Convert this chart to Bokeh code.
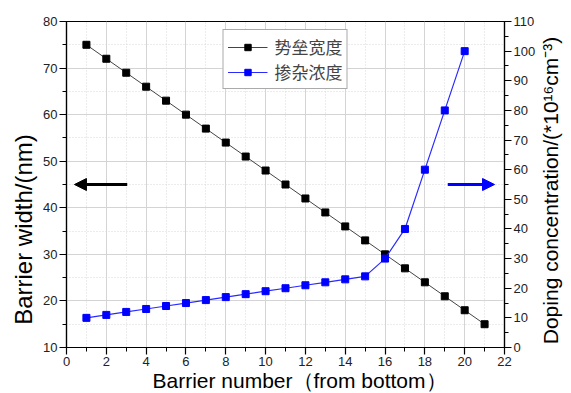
import math
from bokeh.plotting import figure
from bokeh.models import (Range1d, LinearAxis, SingleIntervalTicker, Arrow,
                          NormalHead, Legend, LegendItem, Label)
from bokeh.embed import file_html
from bokeh.resources import INLINE

# ---- data ----
barrier_x = list(range(1, 22))
barrier_width = [75, 72, 69, 66, 63, 60, 57, 54, 51, 48, 45, 42, 39, 36, 33, 30, 27, 24, 21, 18, 15]
doping_x = list(range(1, 21))
doping = [10, 11, 12, 13, 14, 15, 16, 17, 18, 19, 20, 21, 22, 23, 24, 30, 40, 60, 80, 100]
legend_labels = ["势垒宽度", "掺杂浓度"]
x_label = "Barrier number（from bottom）"
y_label = "Barrier width/(nm)"
y2_label = "Doping concentration/(*10¹⁶cm⁻³)"

# arrow annotation positions (data units)
left_arrow = dict(x_start=3.05, x_end=0.4, y=45)
right_arrow = dict(x_start=19.15, x_end=21.5, y=55)

FONT = "Liberation Sans"
W, H = 571, 393
BL, BR, BT, BB = 66, 67, 21, 46
FW, FH = W - BL - BR, H - BT - BB

p = figure(width=W, height=H, output_backend="svg", toolbar_location=None,
           x_range=Range1d(0, 22), y_range=Range1d(10, 80),
           min_border_left=BL, min_border_right=BR, min_border_top=BT,
           min_border_bottom=BB)
p.extra_y_ranges = {"dop": Range1d(0, 110)}

p.outline_line_color = "black"
p.outline_line_width = 1.2
p.background_fill_color = "white"
p.border_fill_color = "white"

# grids
p.xgrid.ticker = SingleIntervalTicker(interval=2, num_minor_ticks=2)
p.ygrid.ticker = SingleIntervalTicker(interval=10, num_minor_ticks=2)
for g in (p.xgrid, p.ygrid):
    g.grid_line_color = "#d4d4d4"
    g.grid_line_width = 1
    g.minor_grid_line_color = "#d8d8d8"
    g.minor_grid_line_dash = "1 2"
    g.minor_grid_line_width = 1


def style_axis(ax):
    ax.major_label_text_font = FONT
    ax.major_label_text_font_size = "13px"
    ax.major_label_text_color = "#222222"
    ax.major_label_standoff = 2
    ax.axis_line_color = "black"
    ax.axis_line_width = 1.2
    ax.major_tick_in = 0
    ax.major_tick_out = 7
    ax.minor_tick_in = 0
    ax.minor_tick_out = 4
    ax.major_tick_line_color = "black"
    ax.minor_tick_line_color = "black"
    ax.major_tick_line_width = 1.2


xa = p.xaxis[0]
xa.ticker = SingleIntervalTicker(interval=2, num_minor_ticks=2)
style_axis(xa)

ya = p.yaxis[0]
ya.ticker = SingleIntervalTicker(interval=10, num_minor_ticks=2)
style_axis(ya)

ra = LinearAxis(y_range_name="dop")
ra.ticker = SingleIntervalTicker(interval=10, num_minor_ticks=2)
style_axis(ra)
p.add_layout(ra, "right")

# axis titles placed in the side panels
p.add_layout(Label(x=FW / 2 + 14, y=11, x_units="screen", y_units="screen",
                   text=x_label, text_align="center", text_baseline="middle",
                   text_font=FONT, text_font_size="21px", text_color="black"),
             "below")
p.add_layout(Label(x=10, y=118, x_units="screen", y_units="screen",
                   text=y_label, angle=math.pi / 2, text_align="center",
                   text_baseline="middle", text_font=FONT,
                   text_font_size="24px", text_color="black"),
             "left")
p.add_layout(Label(x=12, y=FH / 2 - 6, x_units="screen", y_units="screen",
                   text=y2_label, angle=math.pi / 2, text_align="center",
                   text_baseline="middle", text_font=FONT,
                   text_font_size="21px", text_color="black"),
             "right")

# series
l1 = p.line(barrier_x, barrier_width, line_color="#444444", line_width=1)
s1 = p.scatter(barrier_x, barrier_width, marker="square", size=7,
               fill_color="black", line_color="black")
l2 = p.line(doping_x, doping, line_color="#2a2aff", line_width=1.2, y_range_name="dop")
s2 = p.scatter(doping_x, doping, marker="square", size=7,
               fill_color="#0000ff", line_color="#0000ff", y_range_name="dop")

legend = Legend(items=[LegendItem(label=legend_labels[0], renderers=[l1, s1]),
                       LegendItem(label=legend_labels[1], renderers=[l2, s2])],
                location="top", label_text_font="Liberation Sans, 'Noto Sans CJK SC'",
                label_text_font_size="17px", label_height=16,
                glyph_width=40, glyph_height=16,
                spacing=0, padding=4, margin=8, label_standoff=7,
                border_line_color="#555555", border_line_width=1,
                background_fill_alpha=1.0)
p.add_layout(legend, "center")

# arrows
p.add_layout(Arrow(end=NormalHead(size=12, fill_color="black", line_color="black"),
                   x_start=left_arrow["x_start"], y_start=left_arrow["y"],
                   x_end=left_arrow["x_end"], y_end=left_arrow["y"],
                   line_color="black", line_width=3))
p.add_layout(Arrow(end=NormalHead(size=12, fill_color="#0000ff", line_color="#0000ff"),
                   x_start=right_arrow["x_start"], y_start=right_arrow["y"],
                   x_end=right_arrow["x_end"], y_end=right_arrow["y"],
                   y_range_name="dop", line_color="#0000ff", line_width=3))

open("out.html", "w").write(file_html(p, INLINE))
